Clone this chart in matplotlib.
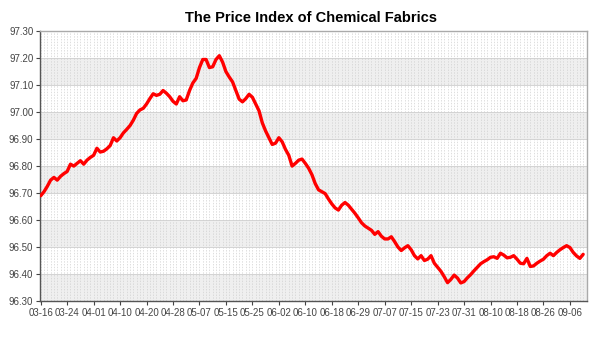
import numpy as np
import matplotlib
matplotlib.use("Agg")
from matplotlib import pyplot as plt

title = "The Price Index of Chemical Fabrics"

tick_labels = ["03-16", "03-24", "04-01", "04-10", "04-20", "04-28", "05-07",
               "05-15", "05-25", "06-02", "06-10", "06-18", "06-29", "07-07",
               "07-15", "07-23", "07-31", "08-10", "08-18", "08-26", "09-06"]
tick_step = 8

values = [
    96.690, 96.705, 96.725, 96.748, 96.758, 96.748, 96.762, 96.772, 96.780, 96.807,
    96.800, 96.810, 96.820, 96.807, 96.822, 96.832, 96.840, 96.866, 96.852, 96.855,
    96.864, 96.876, 96.905, 96.893, 96.905, 96.923, 96.936, 96.950, 96.970, 96.995,
    97.008, 97.014, 97.030, 97.050, 97.068, 97.062, 97.066, 97.080, 97.070, 97.057,
    97.040, 97.030, 97.057, 97.042, 97.045, 97.080, 97.108, 97.125, 97.165, 97.195,
    97.195, 97.165, 97.168, 97.195, 97.209, 97.185, 97.150, 97.130, 97.112, 97.080,
    97.048, 97.038, 97.050, 97.066, 97.055, 97.030, 97.005, 96.960, 96.930, 96.905,
    96.880, 96.885, 96.905, 96.890, 96.862, 96.840, 96.800, 96.810, 96.822, 96.826,
    96.810, 96.792, 96.768, 96.735, 96.712, 96.705, 96.698, 96.678, 96.660, 96.645,
    96.637, 96.655, 96.665, 96.655, 96.640, 96.625, 96.608, 96.590, 96.578, 96.570,
    96.562, 96.547, 96.557, 96.540, 96.530, 96.530, 96.538, 96.520, 96.500, 96.487,
    96.497, 96.505, 96.490, 96.468, 96.456, 96.468, 96.450, 96.455, 96.468, 96.440,
    96.425, 96.410, 96.390, 96.368, 96.380, 96.396, 96.385, 96.367, 96.372, 96.386,
    96.398, 96.412, 96.425, 96.438, 96.446, 96.453, 96.462, 96.464, 96.458, 96.477,
    96.470, 96.460, 96.462, 96.468, 96.455, 96.440, 96.438, 96.458, 96.428, 96.430,
    96.440, 96.448, 96.455, 96.468, 96.477, 96.468, 96.480, 96.490, 96.498, 96.505,
    96.498, 96.480, 96.467, 96.458, 96.473,
]

y_min, y_max, y_step = 96.30, 97.30, 0.10


def main():
    plt.rcParams["font.family"] = ["Liberation Sans", "DejaVu Sans"]
    x = np.arange(len(values))
    fig = plt.figure(figsize=(6, 3.5), dpi=100)
    ax = fig.add_axes([0.067, 0.14, 0.911, 0.771])

    # alternating horizontal bands
    levels = np.round(np.arange(y_min, y_max + 1e-9, y_step), 2)
    for k in range(len(levels) - 1):
        if k % 2 == 0:
            ax.axhspan(levels[k], levels[k + 1], color="#efefef", zorder=0, lw=0)
    for lv in levels:
        ax.axhline(lv, color="#d4d4d4", lw=0.7, zorder=1)
    for xi in x:
        ax.axvline(xi, color="#d0d0d0", lw=0.5, ls=(0, (2, 2)), zorder=1)

    ax.plot(x, values, color="#ff0000", lw=2.4, solid_joinstyle="round",
            solid_capstyle="round", zorder=3)

    ax.set_xlim(-0.15, len(values) + 0.1)
    ax.set_ylim(y_min, y_max)
    ax.set_yticks(levels)
    ax.set_yticklabels([f"{v:.2f}" for v in levels])
    ticks = np.arange(0, len(tick_labels) * tick_step, tick_step)
    ax.set_xticks(ticks)
    ax.set_xticklabels(tick_labels)
    ax.tick_params(labelsize=7, colors="#444444", length=3, width=0.8, pad=2)

    for side in ["left", "bottom"]:
        ax.spines[side].set_color("#555555")
        ax.spines[side].set_linewidth(1.0)
    for side in ["top", "right"]:
        ax.spines[side].set_color("#aaaaaa")
        ax.spines[side].set_linewidth(1.0)

    fig.text(0.518, 0.95, title, ha="center", va="center", fontsize=10.5,
             fontweight="bold")
    fig.savefig("out.png", dpi=100)
    plt.close(fig)


main()
